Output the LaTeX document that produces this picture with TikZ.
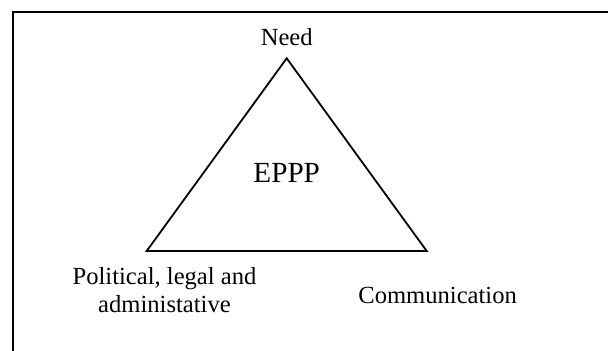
\documentclass[tikz,border=0pt]{standalone}
\usepackage{fontspec}
\setmainfont{Liberation Serif}
\usetikzlibrary{positioning,calc}

\begin{document}
\begin{tikzpicture}[
    x=0.5pt, y=-0.5pt,
    label/.style={font=\fontsize{12.3}{14}\selectfont, align=center, inner sep=0pt, anchor=base},
    core/.style={font=\fontsize{14.6}{17}\selectfont, inner sep=0pt, anchor=base},
    edge/.style={line width=0.9pt, line join=miter}
]
    \clip (0,0) rectangle (608,351);
    % outer frame
    \draw[line width=1pt] (13,12.3) rectangle (640,380);

    \coordinate (apex) at (286.7,58.3);
    \coordinate (left) at (146.7,251);
    \coordinate (right) at (426.7,251);
    \draw[edge] (apex) -- (left) -- (right) -- cycle;

    \node[label] (need) at (286.7,46) {Need};
    \node[core] (eppp) at (286.7,182.7) {EPPP};
    \node[label] (pol) at (164.5,285) {Political, legal and};
    \node[label] (adm) at (164.5,312.7) {administative};
    \node[label] (comm) at (437.6,303.3) {Communication};
\end{tikzpicture}
\end{document}
